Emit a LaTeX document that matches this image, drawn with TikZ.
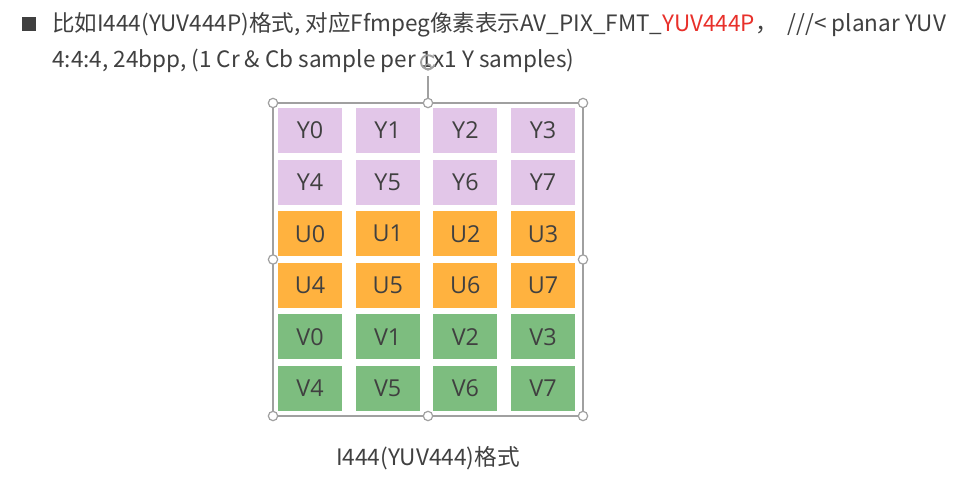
\documentclass[tikz,border=0pt]{standalone}
\usepackage{fontspec}
\setmainfont{Noto Sans CJK SC}
\newfontfamily\cellfont{Open Sans}
\usetikzlibrary{arrows.meta}
\definecolor{ylum}{RGB}{226,198,232}
\definecolor{uorange}{RGB}{255,178,63}
\definecolor{vgreen}{RGB}{125,189,127}
\definecolor{txtgray}{RGB}{64,64,64}
\definecolor{hlred}{RGB}{232,48,42}
\definecolor{selgray}{RGB}{160,160,160}
\tikzset{
  cellbox/.style={minimum width=48pt,minimum height=33.75pt,inner sep=0pt,
    font=\cellfont\fontsize{17.5}{17.5}\selectfont,text=txtgray},
  handle/.style={circle,draw=selgray,fill=white,line width=0.9pt,
    minimum size=7pt,inner sep=0pt},
}
\begin{document}
\begin{tikzpicture}[x=0.75pt,y=0.75pt,yscale=-1,xscale=1]
\useasboundingbox (0,0) rectangle (972,499);
% heading
\fill [txtgray] (22,17) rectangle (36,31);
\draw (52,25) node [anchor=west][inner sep=0pt,text=txtgray,font=\fontsize{16.9}{16.9}\selectfont] (head1)
  {比如I444(YUV444P)格式, 对应Ffmpeg像素表示AV\_PIX\_FMT\_\textcolor{hlred}{YUV444P}，\ \ ///< planar YUV};
\draw (52,61) node [anchor=west][inner sep=0pt,text=txtgray,font=\fontsize{16.9}{16.9}\selectfont] (head2)
  {4:4:4, 24bpp, (1 Cr \& Cb sample per 1x1 Y samples)};
% selection frame
\draw [selgray,line width=0.9pt] (428,103) -- (428,76);
\draw [selgray,line width=1.4pt,-{Stealth[length=3.5pt]}] (434.6,64.6) arc (20:330:7);
\draw [selgray,line width=1pt] (428,67) circle (3);
\draw [selgray,line width=0.9pt] (273,103) rectangle (583,416);
% planes
\foreach \i in {0,...,3} {
  \foreach \j/\n in {0/0,1/4} {
    \pgfmathtruncatemacro\k{\n+\i}
    \node [cellbox,fill=ylum] (y\k) at (310+77.7*\i,130.5+51.6*\j) {Y\k};
    \node [cellbox,fill=uorange] (u\k) at (310+77.7*\i,233.7+51.6*\j) {U\k};
    \node [cellbox,fill=vgreen] (v\k) at (310+77.7*\i,336.9+51.6*\j) {V\k};
  }
}
% handles
\foreach \hx/\hy in {273/103,428/103,583/103,273/259.5,583/259.5,273/416,428/416,583/416}
  \node [handle] at (\hx,\hy) {};
\draw (428,458) node [inner sep=0pt,text=txtgray,font=\fontsize{17}{17}\selectfont] (caption) {I444(YUV444)格式};
\end{tikzpicture}
\end{document}
